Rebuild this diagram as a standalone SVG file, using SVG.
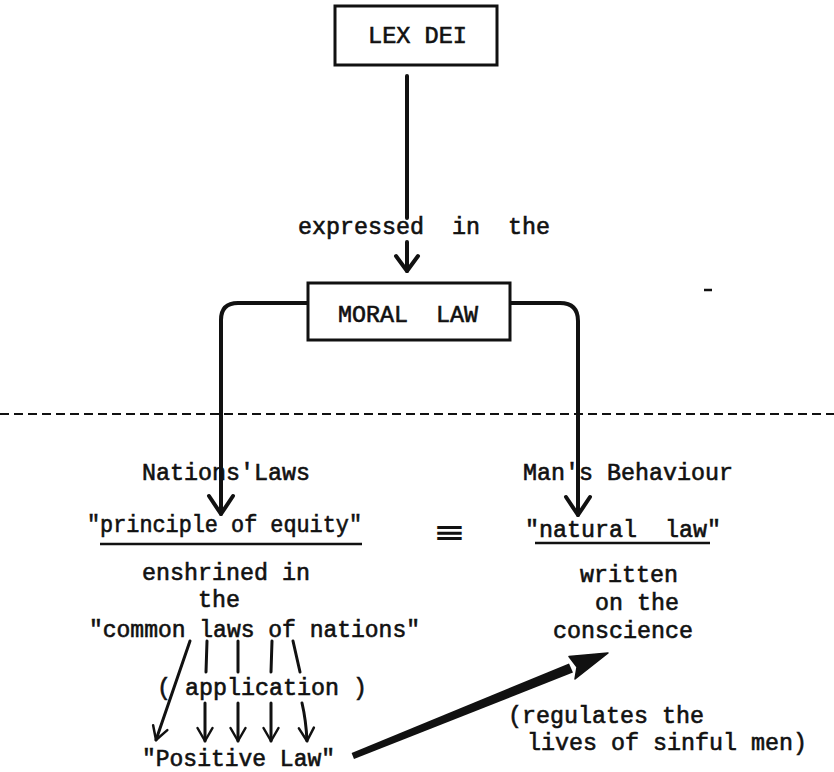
<svg xmlns="http://www.w3.org/2000/svg" width="834" height="772" viewBox="0 0 834 772">
<style>
.t{font-family:"Liberation Mono","DejaVu Sans Mono",monospace;font-size:23px;fill:#111;stroke:#111;stroke-width:0.6px;white-space:pre}
.box{fill:#fff;stroke:#111;stroke-width:3}
.ln{fill:none;stroke:#111;stroke-width:3;stroke-linecap:round;stroke-linejoin:round}
.thick{fill:none;stroke:#111;stroke-width:4;stroke-linecap:round}
.ul{stroke:#111;stroke-width:2.5}
.dash{stroke:#111;stroke-width:2.2;stroke-dasharray:9 5}
</style>
<defs>
<marker id="big" markerUnits="userSpaceOnUse" viewBox="-22 -16 26 32" refX="0" refY="0" markerWidth="26" markerHeight="32" orient="auto">
<path d="M-18,-12 L0,0 L-18,12" fill="none" stroke="#111" stroke-width="4" stroke-linecap="round" stroke-linejoin="round"/>
</marker>
<marker id="mid" markerUnits="userSpaceOnUse" viewBox="-20 -16 24 32" refX="0" refY="0" markerWidth="24" markerHeight="32" orient="auto">
<path d="M-15,-11 L0,0 L-15,11" fill="none" stroke="#111" stroke-width="4" stroke-linecap="round" stroke-linejoin="round"/>
</marker>
<marker id="sm" markerUnits="userSpaceOnUse" viewBox="-16 -12 20 24" refX="0" refY="0" markerWidth="20" markerHeight="24" orient="auto">
<path d="M-13,-7.5 L0,0 L-13,7.5" fill="none" stroke="#111" stroke-width="2.5" stroke-linecap="round" stroke-linejoin="round"/>
</marker>
</defs>
<rect width="834" height="772" fill="#fff"/>

<g id="connectors">
<line class="thick" x1="407" y1="76" x2="407" y2="218"/>
<line class="thick" x1="407" y1="242" x2="407" y2="271" marker-end="url(#mid)"/>
<path class="thick" d="M308,303 H238 Q221,303 221,320 V514" marker-end="url(#big)"/>
<path class="thick" d="M510,303 H560 Q578,303 578,321 V515" marker-end="url(#big)"/>
<line class="dash" x1="0" y1="414" x2="834" y2="414"/>
<line class="ln" x1="207" y1="641" x2="206" y2="672"/>
<line class="ln" x1="238" y1="641" x2="238" y2="672"/>
<line class="ln" x1="272" y1="641" x2="271" y2="672"/>
<line class="ln" x1="293" y1="641" x2="300" y2="672"/>
<line class="ln" x1="190" y1="641" x2="156" y2="740" marker-end="url(#sm)"/>
<line class="ln" x1="205" y1="703" x2="205" y2="741" marker-end="url(#sm)"/>
<line class="ln" x1="238" y1="703" x2="238" y2="741" marker-end="url(#sm)"/>
<line class="ln" x1="271" y1="703" x2="271" y2="741" marker-end="url(#sm)"/>
<path class="ln" d="M302,703 Q306,720 307,741" marker-end="url(#sm)"/>
<path d="M354,759 L351.6,753 L569,663.5 L573,672.5 Z" fill="#111"/>
<path d="M608,653 L569,656.5 L577,667 L575,679 Z" fill="#111" stroke="#111" stroke-width="1.5" stroke-linejoin="round"/>
<line x1="704" y1="290" x2="712" y2="290" stroke="#111" stroke-width="2.5"/>
</g>

<g id="lexdei">
<rect class="box" x="335" y="6" width="162" height="59"/>
<text class="t" x="368" y="43" textLength="99" lengthAdjust="spacingAndGlyphs">LEX DEI</text>
</g>

<g id="expressed">
<text class="t" x="298" y="234" textLength="252" lengthAdjust="spacingAndGlyphs">expressed  in  the</text>
</g>

<g id="morallaw">
<rect class="box" x="308" y="283" width="202" height="57"/>
<text class="t" x="338" y="322" textLength="140" lengthAdjust="spacingAndGlyphs">MORAL  LAW</text>
</g>

<g id="nationslaws">
<text class="t" x="142" y="480" textLength="168" lengthAdjust="spacingAndGlyphs">Nations'Laws</text>
</g>

<g id="mansbehaviour">
<text class="t" x="523" y="480" textLength="210" lengthAdjust="spacingAndGlyphs">Man's Behaviour</text>
</g>

<g id="equity">
<text class="t" x="87" y="532" textLength="275" lengthAdjust="spacingAndGlyphs">"principle of equity"</text>
<line class="ul" x1="100" y1="544" x2="362" y2="544"/>
<text class="t" x="142" y="580" textLength="168" lengthAdjust="spacingAndGlyphs">enshrined in</text>
<text class="t" x="198" y="607" textLength="42" lengthAdjust="spacingAndGlyphs">the</text>
<text class="t" x="89" y="637" textLength="331" lengthAdjust="spacingAndGlyphs">"common laws of nations"</text>
</g>

<g id="equiv" transform="translate(449,532) scale(1.3,0.85)">
<text x="0" y="11" text-anchor="middle" font-family="DejaVu Sans, sans-serif" font-size="30" font-weight="bold" fill="#111">≡</text>
</g>

<g id="naturallaw">
<text class="t" x="525" y="537" textLength="196" lengthAdjust="spacingAndGlyphs">"natural  law"</text>
<line class="ul" x1="535" y1="543" x2="710" y2="543"/>
<text class="t" x="580" y="582" textLength="98" lengthAdjust="spacingAndGlyphs">written</text>
<text class="t" x="595" y="610" textLength="84" lengthAdjust="spacingAndGlyphs">on the</text>
<text class="t" x="553" y="638" textLength="140" lengthAdjust="spacingAndGlyphs">conscience</text>
</g>

<g id="application">
<text class="t" x="157" y="695" textLength="210" lengthAdjust="spacingAndGlyphs">( application )</text>
</g>

<g id="positivelaw">
<text class="t" x="142" y="766" textLength="193" lengthAdjust="spacingAndGlyphs">"Positive Law"</text>
</g>

<g id="regulates">
<text class="t" x="508" y="723" textLength="196" lengthAdjust="spacingAndGlyphs">(regulates the</text>
<text class="t" x="527" y="750" textLength="280" lengthAdjust="spacingAndGlyphs">lives of sinful men)</text>
</g>
</svg>
